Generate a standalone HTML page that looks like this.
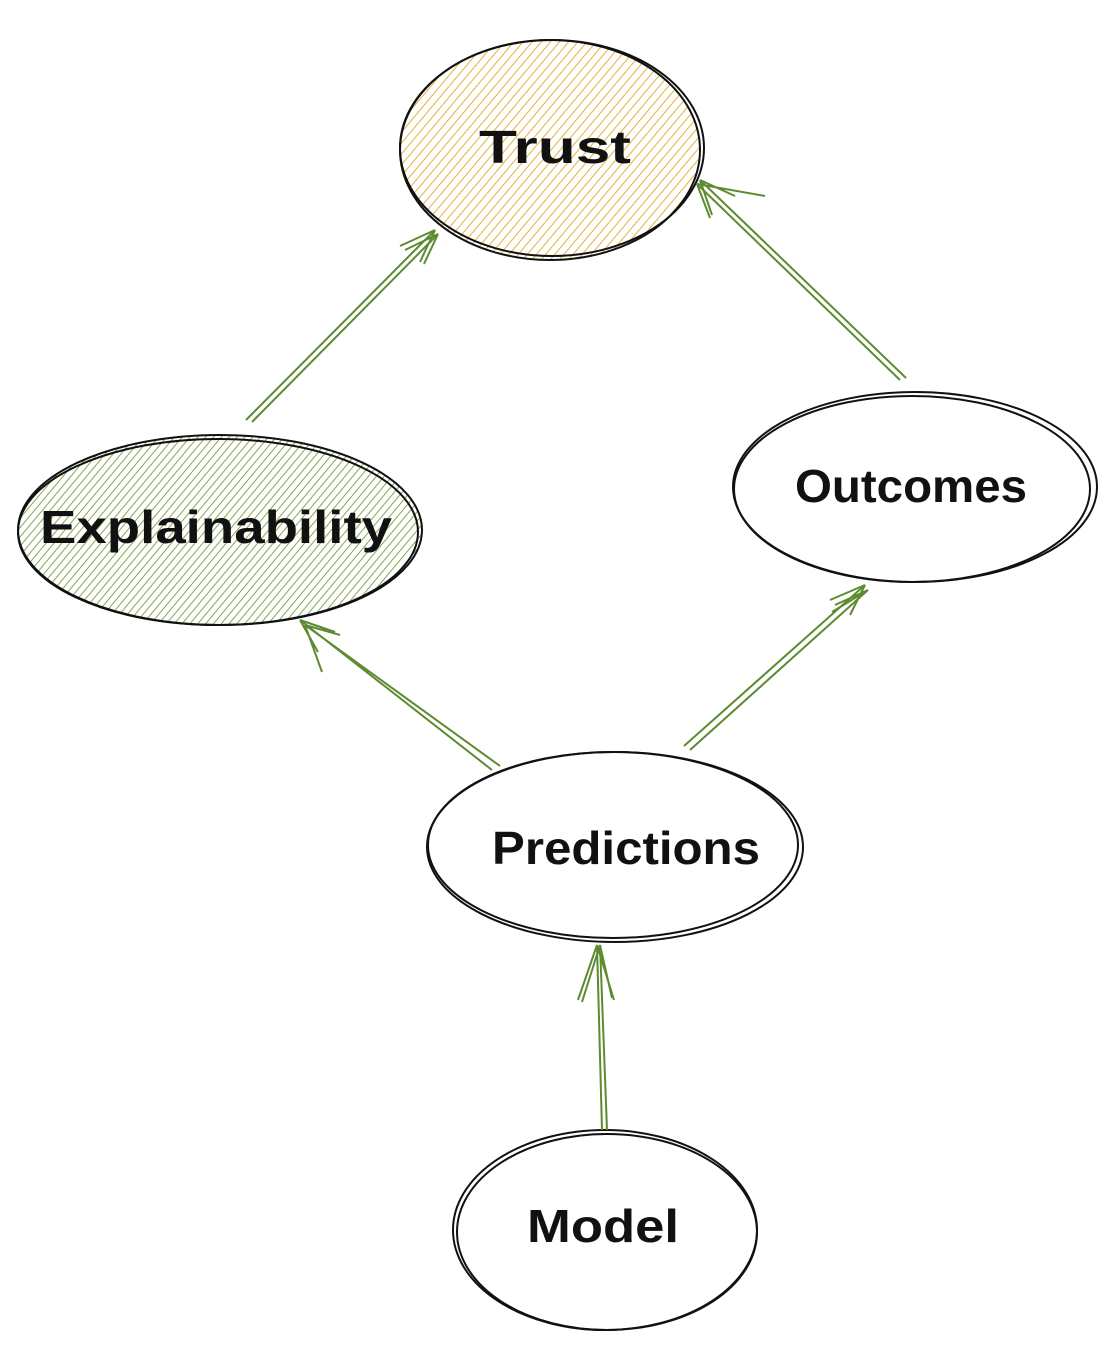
<!DOCTYPE html>
<html><head><meta charset="utf-8"><style>
html,body{margin:0;padding:0;background:#fff;}
svg{display:block;}
text{font-family:"Liberation Sans",sans-serif;font-size:46px;fill:#111;font-weight:bold;}
</style></head><body>
<svg width="1119" height="1348" viewBox="0 0 1119 1348" xmlns="http://www.w3.org/2000/svg">
<defs>
<pattern id="ho" patternUnits="userSpaceOnUse" width="7" height="7" patternTransform="rotate(40)">
<line x1="0" y1="0" x2="0" y2="7" stroke="#e6b13e" stroke-width="2"/>
</pattern>
<pattern id="hg" patternUnits="userSpaceOnUse" width="6" height="6" patternTransform="rotate(40)">
<line x1="0" y1="0" x2="0" y2="6" stroke="#7a9e3c" stroke-width="1.8"/>
</pattern>
</defs>
<g fill="none" stroke="#111" stroke-width="2">
<ellipse cx="550" cy="150" rx="150" ry="110" fill="url(#ho)"/>
<ellipse cx="552" cy="148" rx="152" ry="108"/>
<ellipse cx="220" cy="530" rx="202" ry="95" fill="url(#hg)"/>
<ellipse cx="218" cy="532" rx="200" ry="93"/>
<ellipse cx="915" cy="487" rx="182" ry="95"/>
<ellipse cx="912" cy="489" rx="178" ry="93"/>
<ellipse cx="615" cy="847" rx="188" ry="95"/>
<ellipse cx="613" cy="845" rx="185" ry="93"/>
<ellipse cx="605" cy="1230" rx="152" ry="100"/>
<ellipse cx="607" cy="1232" rx="150" ry="98"/>
</g>
<g fill="none" stroke="#5e8a32" stroke-width="2">
<path d="M246 420 L435 230 M252 422 L438 234"/>
<path d="M435 230 L400 246 M435 230 L420 262 M438 234 L405 250 M438 234 L424 264"/>
<path d="M906 378 L700 180 M900 380 L697 184"/>
<path d="M700 180 L712 215 M700 180 L735 196 M697 184 L710 218 M697 184 L765 196"/>
<path d="M492 770 L300 620 M500 766 L305 625"/>
<path d="M300 620 L335 632 M300 620 L318 652 M305 625 L340 635 M305 625 L322 672"/>
<path d="M684 746 L865 585 M690 750 L868 590"/>
<path d="M865 585 L830 600 M865 585 L850 615 M868 590 L835 605 M868 590 L832 612"/>
<path d="M602 1130 L597 945 M607 1130 L600 945"/>
<path d="M597 945 L578 1000 M597 945 L614 1000 M600 945 L582 1002 M600 945 L612 998"/>
</g>
<text x="555" y="163" text-anchor="middle" textLength="152" lengthAdjust="spacingAndGlyphs">Trust</text>
<text x="216" y="543" text-anchor="middle" textLength="352" lengthAdjust="spacingAndGlyphs">Explainability</text>
<text x="911" y="502" text-anchor="middle" textLength="232" lengthAdjust="spacingAndGlyphs">Outcomes</text>
<text x="626" y="864" text-anchor="middle" textLength="268" lengthAdjust="spacingAndGlyphs">Predictions</text>
<text x="603" y="1242" text-anchor="middle" textLength="152" lengthAdjust="spacingAndGlyphs">Model</text>
</svg>
</body></html>
